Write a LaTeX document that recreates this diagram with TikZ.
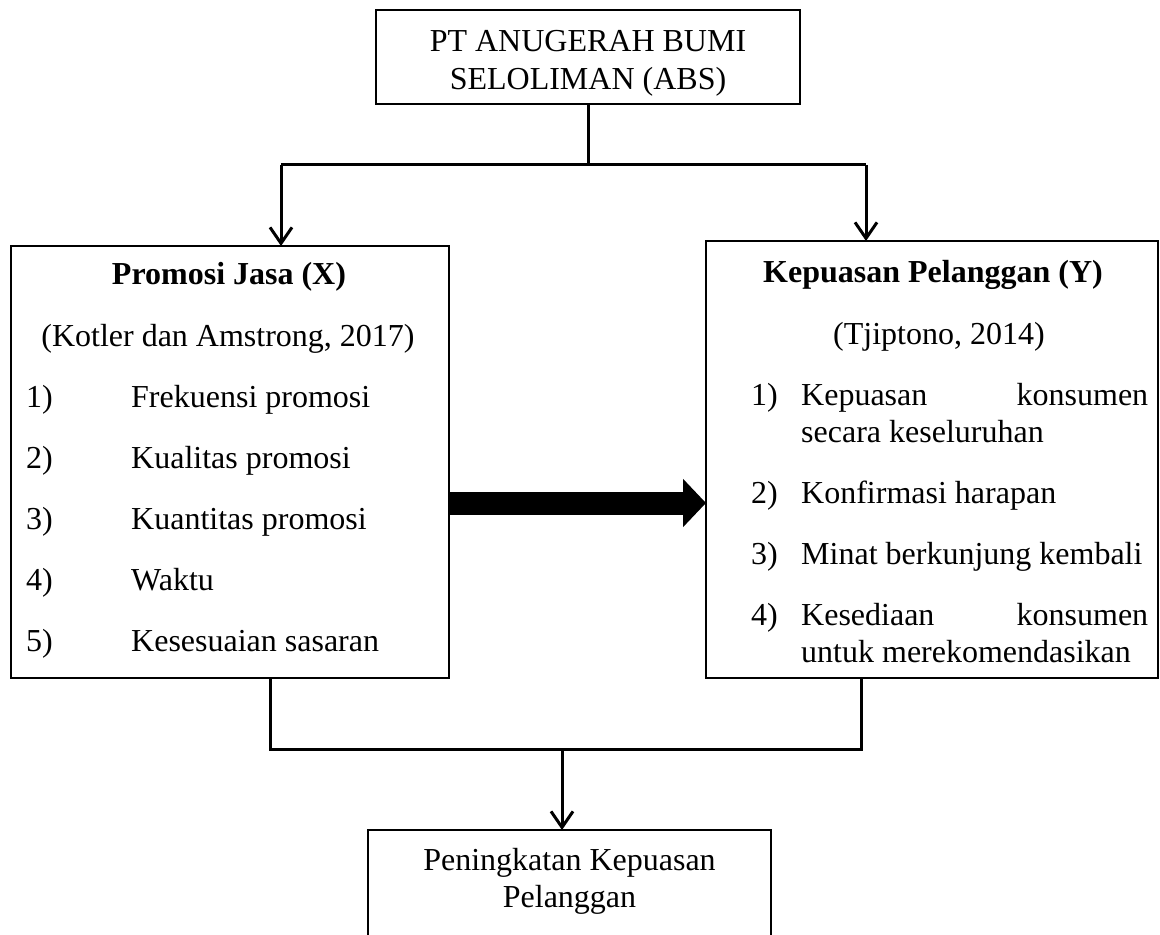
\documentclass[tikz,border=0pt]{standalone}
\usepackage{fontspec}
\setmainfont{Liberation Serif}
\usetikzlibrary{arrows.meta}

\begin{document}
\begin{tikzpicture}[x = 0.5pt, y = -0.5pt, line width = 1.2pt, font = \fontsize{16}{19}\selectfont,
box/.style = {draw, rectangle, inner sep = 0pt, outer sep = 0pt},
txt/.style = {inner sep = 0pt, anchor = base west},
ctxt/.style = {inner sep = 0pt, anchor = base},
link/.style = {line width = 1.5pt},
>={Straight Barb[length = 8pt, width = 11pt]}]
\clip (0,0) rectangle (1160,935);
\node[box, minimum width = 212pt, minimum height = 47pt] (abs) at (588,57) {};
\node[ctxt] (abs1) at (588,52) {PT ANUGERAH BUMI};
\node[ctxt] (abs2) at (588,90) {SELOLIMAN (ABS)};
\node[box, minimum width = 219pt, minimum height = 216pt] (promosi) at (230,462) {};
\node[ctxt] (xjudul) at (229,285) {\bfseries Promosi Jasa (X)};
\node[ctxt] (xsumber) at (228,346) {(Kotler dan Amstrong, 2017)};
\foreach \n/\t [count = \i] in {1/Frekuensi promosi, 2/Kualitas promosi, 3/Kuantitas promosi, 4/Waktu, 5/Kesesuaian sasaran}
{
\node[txt] (xnum\i) at (25,346 + 61*\i) {\n)};
\node[txt] (xitem\i) at (130,346 + 61*\i) {\t};
}
\node[box, minimum width = 226pt, minimum height = 218.5pt] (kepuasan) at (932,459.5) {};
\node[ctxt] (yjudul) at (933,283) {\bfseries Kepuasan Pelanggan (Y)};
\node[ctxt] (ysumber) at (939,344) {(Tjiptono, 2014)};
\node[txt] (ynum1) at (750,405) {1)};
\node[txt] (yitem1) at (800,405) {\makebox[173.5pt][s]{Kepuasan\hfill konsumen}};
\node[txt] (yitem1b) at (800,442) {secara keseluruhan};
\node[txt] (ynum2) at (750,503) {2)};
\node[txt] (yitem2) at (800,503) {Konfirmasi harapan};
\node[txt] (ynum3) at (750,564) {3)};
\node[txt] (yitem3) at (800,564) {Minat berkunjung kembali};
\node[txt] (ynum4) at (750,625) {4)};
\node[txt] (yitem4) at (800,625) {\makebox[173.5pt][s]{Kesediaan\hfill konsumen}};
\node[txt] (yitem4b) at (800,662) {untuk merekomendasikan};
\node[box, minimum width = 201.5pt, minimum height = 65pt] (hasil) at (569.5,895) {};
\node[ctxt] (hasil1) at (569.5,870) {Peningkatan Kepuasan};
\node[ctxt] (hasil2) at (569.5,907) {Pelanggan};
\coordinate (kiri) at (281,165);
\coordinate (kanan) at (866,165);
\draw[link] (abs.south) -- (abs.south |- kiri);
\draw[link] (kiri) -- (kanan);
\draw[link, ->] (kiri) -- (kiri |- promosi.north);
\draw[link, ->] (kanan) -- (kanan |- kepuasan.north);
\coordinate (panah) at (0,503);
\draw[line width = 11.5pt, -{Triangle[length = 11.5pt, width = 23.5pt]}] (promosi.east |- panah) -- (kepuasan.west |- panah);
\coordinate (gabungkiri) at (270,749);
\coordinate (gabungkanan) at (861,749);
\coordinate (gabungtengah) at (562,749);
\draw[link] (gabungkiri |- promosi.south) -- (gabungkiri) -- (gabungkanan) -- (gabungkanan |- kepuasan.south);
\draw[link, ->] (gabungtengah) -- (gabungtengah |- hasil.north);
\end{tikzpicture}
\end{document}
